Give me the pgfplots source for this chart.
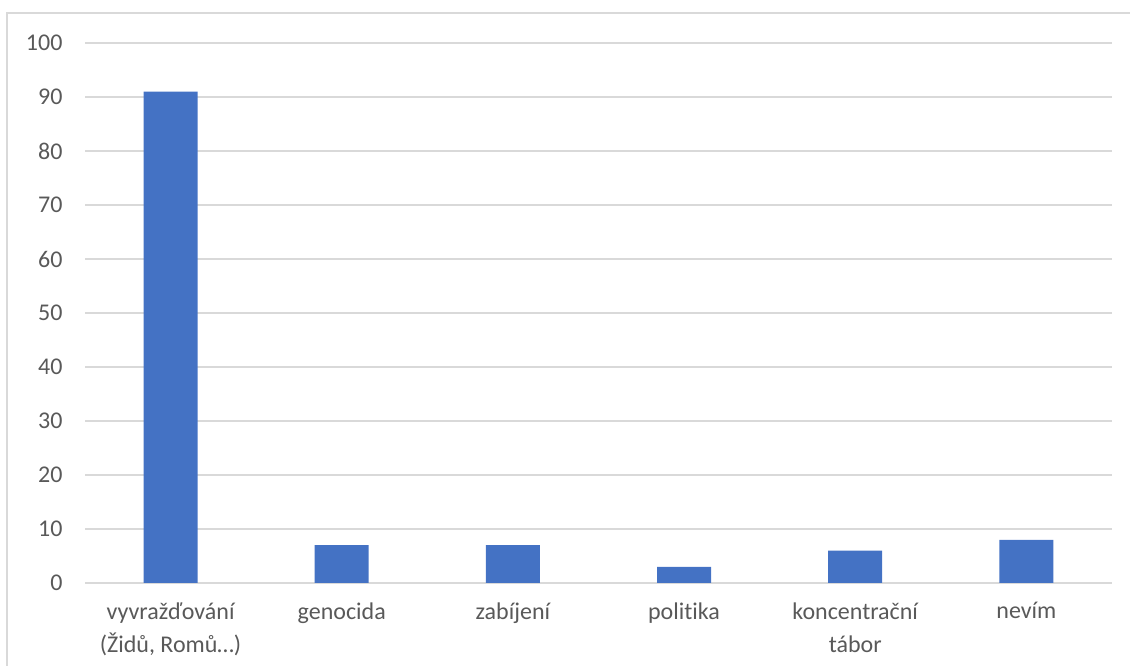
\documentclass[border=0pt]{standalone}
\usepackage{pgfplots}
\pgfplotsset{compat=1.18}
\usepackage{fontspec}
\setmainfont{Carlito}[Ligatures={NoCommon}]
\definecolor{barblue}{HTML}{4472C4}
\definecolor{gridgray}{HTML}{D9D9D9}
\definecolor{txtgray}{HTML}{595959}
\begin{document}
\begin{tikzpicture}
\useasboundingbox (0,0) rectangle (1130pt,666pt);
\draw[gridgray, line width=1.5pt] (7pt,-20pt) -- (7pt,653pt) -- (1150pt,653pt);
\begin{axis}[
  at={(85pt,83pt)}, anchor=south west,
  scale only axis, width=1027pt, height=540pt,
  xmin=-0.5, xmax=5.5, ymin=0, ymax=100,
  ytick={0,10,...,100},
  xtick={0,1,2,3,4,5},
  xticklabels={{vyvražďování\\(Židů, Romů…)},genocida,zabíjení,politika,{koncentrační\\tábor},nevím},
  x tick label style={align=center, font=\fontsize{24}{33}\selectfont, text=txtgray, anchor=north, yshift=-16pt},
  y tick label style={font=\fontsize{24}{28}\selectfont, text=txtgray, xshift=-19pt},
  /pgf/number format/assume math mode=true,
  major tick length=0pt,
  axis line style={draw=none},
  ymajorgrids, grid style={gridgray, line width=1.4pt},
  axis x line*=bottom,
  x axis line style={gridgray, line width=1.4pt},
  y axis line style={draw=none},
  clip=false,
]
\addplot[ybar, bar width=54pt, fill=barblue, draw=none] coordinates {(0,91) (1,7) (2,7) (3,3) (4,6) (5,8)};
\end{axis}
\end{tikzpicture}
\end{document}
